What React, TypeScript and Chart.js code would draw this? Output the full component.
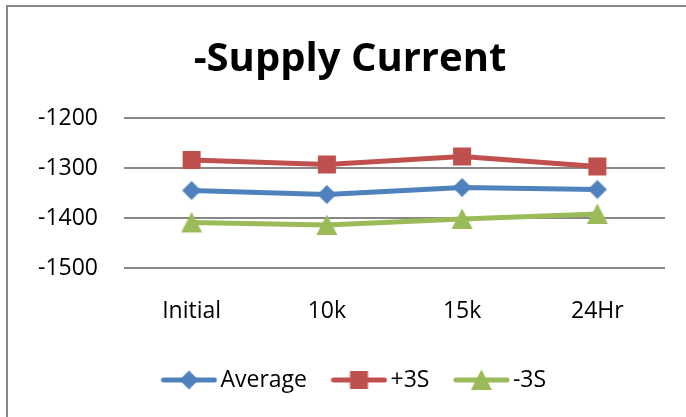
import React, { useEffect, useRef } from 'react';
import { Chart, registerables } from 'chart.js';

Chart.register(...registerables);

const categories = ['Initial', '10k', '15k', '24Hr'];
const averageValues = [-1345, -1353, -1339, -1343];
const plus3SValues = [-1284, -1293, -1277, -1297];
const minus3SValues = [-1409, -1414, -1402, -1392];
const yMin = -1500;
const yMax = -1200;
const yStep = 100;
const seriesNames = ['Average', '+3S', '-3S'];
const seriesColors = ['#4F81BD', '#C0504D', '#9BBB59'];
const markerKinds = ['diamond', 'square', 'triangle'];
const chartTitle = '-Supply Current';

const FONT = "'Open Sans', 'DejaVu Sans', sans-serif";

function drawMarker(ctx: CanvasRenderingContext2D, kind: string, cx: number, cy: number, color: string) {
  ctx.fillStyle = color;
  ctx.beginPath();
  if (kind === 'diamond') {
    const r = 9.5;
    ctx.moveTo(cx, cy - r);
    ctx.lineTo(cx + r, cy);
    ctx.lineTo(cx, cy + r);
    ctx.lineTo(cx - r, cy);
  } else if (kind === 'square') {
    ctx.rect(cx - 9, cy - 9, 18, 18);
  } else {
    ctx.moveTo(cx, cy - 10.5);
    ctx.lineTo(cx + 10.5, cy + 10);
    ctx.lineTo(cx - 10.5, cy + 10);
  }
  ctx.closePath();
  ctx.fill();
}

function makePointImage(kind: string, color: string) {
  const c = document.createElement('canvas');
  c.width = 24;
  c.height = 24;
  const ctx = c.getContext('2d')!;
  drawMarker(ctx, kind, 12, 12, color);
  return c;
}

function makeLegendImage(kind: string, color: string) {
  const c = document.createElement('canvas');
  c.width = 72;
  c.height = 24;
  const ctx = c.getContext('2d')!;
  const x0 = 15.5;
  const len = 56;
  ctx.strokeStyle = color;
  ctx.lineWidth = 5;
  ctx.lineCap = 'round';
  ctx.beginPath();
  ctx.moveTo(x0 + 2.5, 12);
  ctx.lineTo(x0 + len - 2.5, 12);
  ctx.stroke();
  drawMarker(ctx, kind, x0 + len / 2, 12, color);
  return c;
}

const framePlugin = {
  id: 'excelFrame',
  beforeDraw(chart: any) {
    const ctx = chart.ctx;
    ctx.save();
    ctx.fillStyle = '#ffffff';
    ctx.fillRect(0, 0, chart.width, chart.height);
    ctx.fillStyle = '#878787';
    ctx.fillRect(6, 5, chart.width, 2);
    ctx.fillRect(6, 5, 2, chart.height);
    ctx.restore();
  },
};

export default function App() {
  const canvasRef = useRef<HTMLCanvasElement | null>(null);

  useEffect(() => {
    const canvas = canvasRef.current;
    if (!canvas) return;
    const seriesValues = [averageValues, plus3SValues, minus3SValues];
    const pointImages = markerKinds.map((k, i) => makePointImage(k, seriesColors[i]));
    const legendImages = markerKinds.map((k, i) => makeLegendImage(k, seriesColors[i]));

    const chart = new Chart(canvas, {
      type: 'line',
      data: {
        labels: categories,
        datasets: seriesNames.map((name, i) => ({
          label: name,
          data: seriesValues[i],
          borderColor: seriesColors[i],
          backgroundColor: seriesColors[i],
          borderWidth: 5,
          pointStyle: pointImages[i] as any,
          pointRadius: 10,
          tension: 0,
          fill: false,
        })),
      },
      options: {
        animation: false,
        responsive: false,
        devicePixelRatio: 1,
        layout: { padding: { left: 35, right: 21, top: 0, bottom: 15.5 } },
        plugins: {
          tooltip: { enabled: false },
          title: {
            display: true,
            text: chartTitle,
            color: '#000000',
            font: { family: FONT, size: 40, weight: 'bold' },
            padding: { top: 36, bottom: 34 },
          },
          legend: {
            display: true,
            position: 'bottom',
            labels: {
              usePointStyle: true,
              pointStyleWidth: 55,
              padding: 17,
              color: '#000000',
              font: { family: FONT, size: 23 },
              generateLabels: (ch: any) =>
                ch.data.datasets.map((ds: any, i: number) => ({
                  text: ds.label,
                  pointStyle: legendImages[i],
                  fillStyle: ds.borderColor,
                  strokeStyle: ds.borderColor,
                  lineWidth: 0,
                  hidden: false,
                  datasetIndex: i,
                  fontColor: '#000000',
                })),
            },
          },
        },
        scales: {
          x: {
            type: 'category',
            offset: true,
            grid: { display: false, drawTicks: false },
            border: { display: false },
            ticks: {
              color: '#000000',
              font: { family: FONT, size: 23 },
              padding: 30,
              maxRotation: 0,
              autoSkip: false,
            },
            afterFit: (scale: any) => {
              scale.height = 83.5;
            },
          },
          y: {
            type: 'linear',
            min: yMin,
            max: yMax,
            grid: { color: '#878787', lineWidth: 2, drawTicks: false },
            border: { display: false },
            ticks: {
              stepSize: yStep,
              color: '#000000',
              font: { family: FONT, size: 23 },
              padding: 26,
              callback: (v: any) => String(v),
            },
            afterFit: (scale: any) => {
              scale.width = 89;
            },
          },
        },
      },
      plugins: [framePlugin],
    });

    return () => {
      chart.destroy();
    };
  }, []);

  return (
    <div style={{ position: 'fixed', left: 0, top: 0, width: 686, height: 417, overflow: 'hidden', background: '#fff' }}>
      <canvas ref={canvasRef} width={686} height={417} style={{ width: 686, height: 417, display: 'block' }} />
    </div>
  );
}
